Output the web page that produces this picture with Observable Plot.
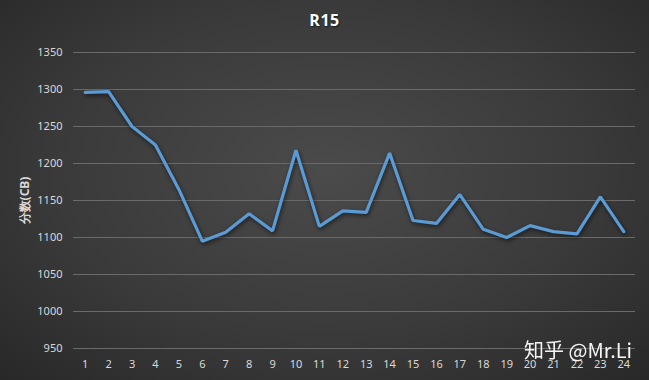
<!DOCTYPE html>
<html>
<head>
<meta charset="utf-8">
<script src="https://cdn.jsdelivr.net/npm/d3@7"></script>
<script src="https://cdn.jsdelivr.net/npm/@observablehq/plot@0.6"></script>
<style>
  html, body { margin: 0; padding: 0; background: #2b2b2b; }
  #wrap {
    position: relative; width: 649px; height: 380px; overflow: hidden;
    background: radial-gradient(ellipse 75% 80% at 50% 45%, #4b4b4b 0%, #3a3a3a 55%, #262626 100%);
    font-family: "Noto Sans", "Noto Sans CJK SC", sans-serif;
  }
  #title {
    position: absolute; left: 0; width: 649px; top: 9px; text-align: center;
    color: #ffffff; font-weight: bold; font-size: 16px; letter-spacing: 0.5px;
    text-shadow: 1px 1px 2px rgba(0,0,0,0.6);
    font-family: "Open Sans", "Noto Sans", sans-serif;
  }
  #mark {
    position: absolute; left: 524px; top: 335px; color: #ffffff; font-size: 20px;
    font-family: "Noto Sans CJK SC", "Noto Sans", sans-serif; opacity: 0.95;
  }
  #chart { position: absolute; left: 0; top: 0; }
</style>
</head>
<body>
<div id="wrap">
  <div id="chart"></div>
  <div id="title">R15</div>
  <div id="mark">知乎 @Mr.Li</div>
</div>
<script>
const rounds = [1,2,3,4,5,6,7,8,9,10,11,12,13,14,15,16,17,18,19,20,21,22,23,24];
const scores = [1296,1297,1250,1225,1165,1095,1107,1132,1109,1218,1115,1136,1134,1214,1123,1119,1158,1111,1100,1116,1108,1105,1155,1108];
const yTicks = [950,1000,1050,1100,1150,1200,1250,1300,1350];

const data = rounds.map((r, i) => ({round: r, score: scores[i]}));

const chart = Plot.plot({
  width: 649,
  height: 380,
  marginLeft: 73,
  marginRight: 14,
  marginTop: 52,
  marginBottom: 32,
  style: {background: "transparent", color: "#d9d9d9", fontSize: "11px", fontFamily: "'Noto Sans', sans-serif"},
  x: {type: "point", domain: rounds, padding: 0.5, round: false},
  y: {domain: [950, 1350]},
  marks: [
    Plot.gridY(yTicks, {stroke: "#6a6a6a", strokeOpacity: 1, strokeWidth: 1}),
    Plot.axisY(yTicks, {tickSize: 0, tickPadding: 11, tickFormat: d => String(d), label: "分数(CB)", labelAnchor: "center", labelArrow: "none", labelOffset: 53, fill: "#d9d9d9"}),
    Plot.axisX(rounds, {tickSize: 0, tickPadding: 12, label: null, fill: "#d9d9d9"}),
    Plot.line(data, {x: "round", y: "score", stroke: "#5b9bd5", strokeWidth: 3.2, strokeLinejoin: "miter", strokeLinecap: "round"})
  ]
});
document.getElementById("chart").appendChild(chart);
chart.querySelectorAll("g[aria-label='y-axis label'] text").forEach(t => { t.setAttribute("font-weight", "bold"); t.setAttribute("font-size", "12px"); });
chart.querySelectorAll("g[aria-label='line'] path").forEach(p => p.style.filter = "drop-shadow(1px 2px 2px rgba(0,0,0,0.6))");
</script>
</body>
</html>
